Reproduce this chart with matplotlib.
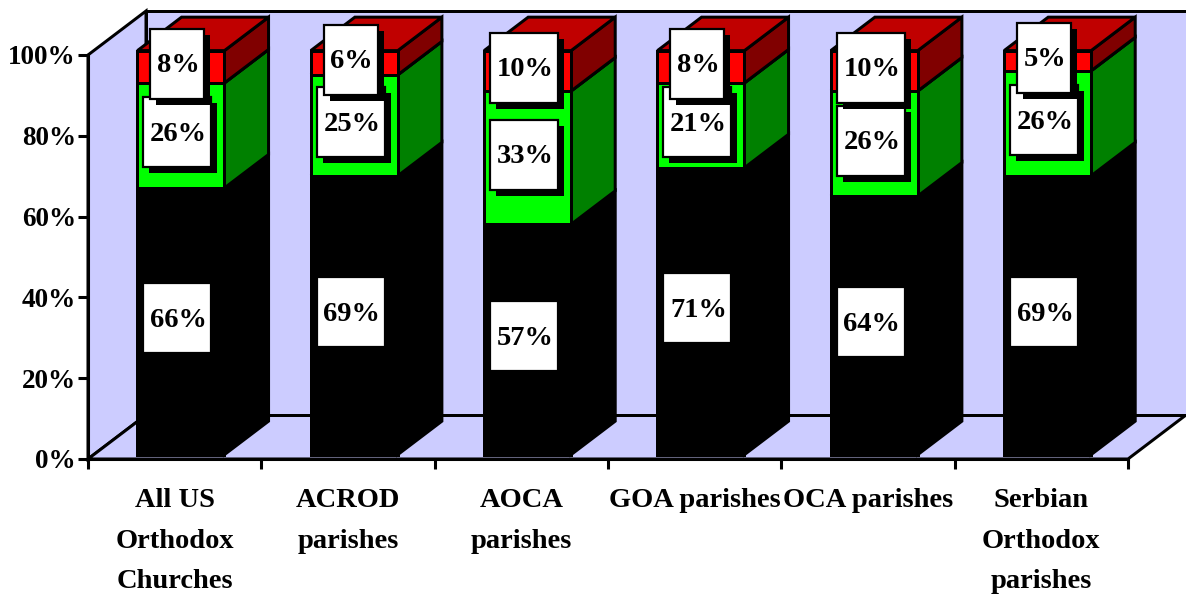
import matplotlib
matplotlib.use('Agg')
import matplotlib.pyplot as plt
from matplotlib.patches import Polygon, Rectangle

plt.rcParams['font.family'] = ['Liberation Serif', 'DejaVu Serif']
plt.rcParams['font.weight'] = 'bold'

# ------------------------------------- data -------------------------------------
categories = ['All US\nOrthodox\nChurches', 'ACROD\nparishes', 'AOCA\nparishes',
              'GOA parishes', 'OCA parishes', 'Serbian\nOrthodox\nparishes']
black_vals = [66, 69, 57, 71, 64, 69]
green_vals = [26, 25, 33, 21, 26, 26]
red_vals = [8, 6, 10, 8, 10, 5]
y_ticks = [0, 20, 40, 60, 80, 100]

# ------------------------------------- layout -------------------------------------
W, H = 1186, 594
LEFT, RIGHT, TOP, BOTTOM = 88, 1128, 55, 459     # front plane, pixels
PX = len(categories) / (RIGHT - LEFT)            # one pixel in x data units
PY = 100 / (BOTTOM - TOP)                        # one pixel in y data units
DX, DY = 58 * PX, 44 * PY                        # full depth of the box
BAR_W = 87 * PX
D0, D1 = 0.10, 0.86                              # depth range of the bars

# (front colour, side colour, top colour)
styles = [('#000000', '#000000', '#000000'),
          ('#00FF00', '#008000', '#008000'),
          ('#FF0000', '#800000', '#C00000')]

fig = plt.figure(figsize=(W / 100, H / 100), dpi=100)
ax = fig.add_axes([LEFT / W, 1 - BOTTOM / H, (RIGHT - LEFT) / W, (BOTTOM - TOP) / H])
ax.set_xlim(0, len(categories))
ax.set_ylim(0, 100)
ax.patch.set_visible(False)


def pt(x, y, d):
    return (x + d * DX, y + d * DY)


def poly(points, face, lw=3.0, z=2):
    ax.add_patch(Polygon(points, closed=True, facecolor=face, edgecolor='black',
                         linewidth=lw * 0.72, joinstyle='miter', clip_on=False, zorder=z))


# walls and floor, the right end of the back wall runs off the picture
n = len(categories)
poly([pt(0, 0, 0), pt(0, 100, 0), pt(0, 100, 1), pt(0, 0, 1)], '#CCCCFF', z=1)
poly([pt(0, 0, 0), pt(n, 0, 0), pt(n, 0, 1), pt(0, 0, 1)], '#CCCCFF', z=1)
poly([pt(0, 0, 1), pt(0, 100, 1), pt(n + 0.05, 100, 1), pt(n + 0.05, 0, 1)], '#CCCCFF', z=1)

# bars
series = [black_vals, green_vals, red_vals]
for i in range(n):
    x0 = i + 0.5 - BAR_W / 2 + 0.5 * PX
    x1 = x0 + BAR_W
    base = 0
    for vals, (front, side, top) in zip(series, styles):
        y0, y1 = base, base + vals[i]
        poly([pt(x1, y0, D0), pt(x1, y1, D0), pt(x1, y1, D1), pt(x1, y0, D1)], side, z=3)
        poly([pt(x0, y1, D0), pt(x1, y1, D0), pt(x1, y1, D1), pt(x0, y1, D1)], top, z=3)
        poly([pt(x0, y0, D0), pt(x1, y0, D0), pt(x1, y1, D0), pt(x0, y1, D0)], front, z=4)
        base = y1

# value labels: white box with a hard black shadow, lower segments first
z = 5
for i in range(n):
    base = 0
    for vals in series:
        mid = base + vals[i] / 2
        base += vals[i]
        cx, cy = pt(i + 0.5, mid, D0)
        cx -= 3 * PX
        cy += 3 * PY
        txt = '%d%%' % vals[i]
        bw = (68 if vals[i] >= 10 else 54) * PX
        bh = 70 * PY
        ax.add_patch(Rectangle((cx - bw / 2 + 6 * PX, cy - bh / 2 - 6 * PY), bw, bh,
                               facecolor='black', edgecolor='black', linewidth=0,
                               clip_on=False, zorder=z))
        ax.add_patch(Rectangle((cx - bw / 2, cy - bh / 2), bw, bh,
                               facecolor='white', edgecolor='black', linewidth=1.6,
                               clip_on=False, zorder=z + 0.1))
        ax.text(cx + 1 * PX, cy - 2 * PY, txt, ha='center', va='center', fontsize=20.5,
                color='black', clip_on=False, zorder=z + 0.2)
        z += 1

# axes
for s in ['top', 'right']:
    ax.spines[s].set_visible(False)
for s in ['left', 'bottom']:
    ax.spines[s].set_linewidth(2.2)
    ax.spines[s].set_zorder(2.5)
ax.set_yticks(y_ticks)
ax.set_yticklabels(['%d%%' % v for v in y_ticks], fontsize=19.5)
ax.set_xticks(range(n + 1))
ax.set_xticklabels([])
ax.set_xticks([i + 0.5 for i in range(n)], minor=True)
ax.set_xticklabels(categories, minor=True, fontsize=20.5, linespacing=1.82)
ax.tick_params(axis='y', length=7.2, width=2.2, pad=1.5)
ax.tick_params(axis='x', which='major', length=7.2, width=2.2)
ax.tick_params(axis='x', which='minor', length=0, pad=21)

fig.savefig('out.png', dpi=100)
